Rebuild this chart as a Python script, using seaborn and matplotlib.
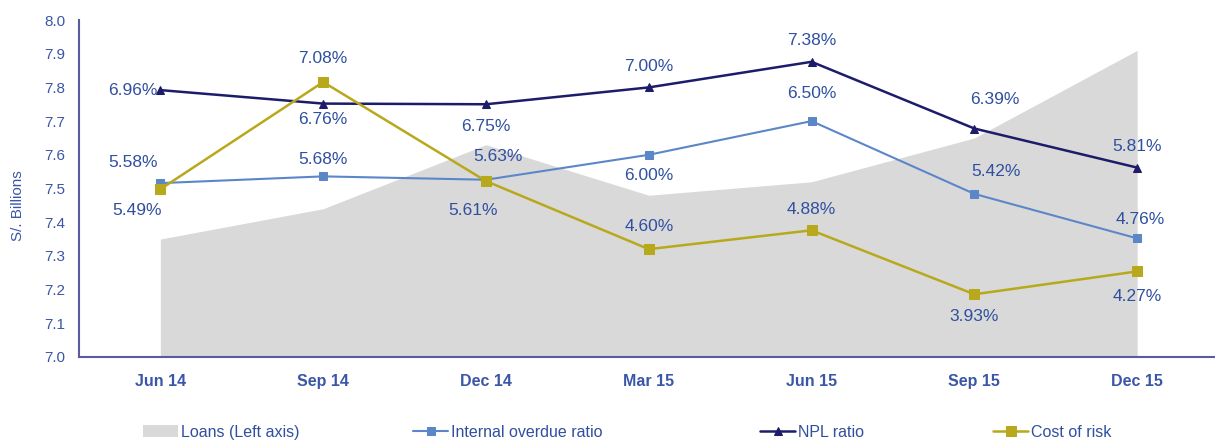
import numpy as np
import pandas as pd
import seaborn as sns
import matplotlib.pyplot as plt

quarters = ['Jun 14', 'Sep 14', 'Dec 14', 'Mar 15', 'Jun 15', 'Sep 15', 'Dec 15']
loans = [7.35, 7.44, 7.63, 7.48, 7.52, 7.65, 7.91]
internal_overdue = [5.58, 5.68, 5.63, 6.00, 6.50, 5.42, 4.76]
npl_ratio = [6.96, 6.76, 6.75, 7.00, 7.38, 6.39, 5.81]
cost_of_risk = [5.49, 7.08, 5.61, 4.60, 4.88, 3.93, 4.27]

# label offsets in pixels (dx, dy) for each point
npl_off = [(-3, 0), (0, -16), (0, -22), (0, 21), (0, 21), (20, 29), (0, 21)]
iod_off = [(-27, 21), (0, 17), (12, 23), (0, -21), (0, 28), (22, 22), (3, 19)]
cor_off = [(-23, -21), (0, 24), (-13, -29), (0, 23), (0, 21), (0, -22), (0, -25)]

TXT = '#2f4f9f'
sns.set_style('white')
plt.rcParams['font.family'] = ['Liberation Sans', 'DejaVu Sans']

x = np.arange(len(quarters))
df = pd.DataFrame({'x': x, 'iod': internal_overdue, 'npl': npl_ratio, 'cor': cost_of_risk})

fig = plt.figure(figsize=(12.15, 4.41), dpi=100)
ax = fig.add_axes([0.065, 0.1905, 0.935, 0.7641])
area = ax.fill_between(x, 7.0, loans, color='#d9d9d9', lw=0, label='Loans (Left axis)')
ax.set_ylim(7.0, 8.0)
ax.set_xlim(-0.5, 6.478)
ax.set_yticks(np.arange(7.0, 8.01, 0.1))
ax.set_yticklabels([f'{v:.1f}' for v in np.arange(7.0, 8.01, 0.1)], color='#3b56a6', fontsize=11)
ax.set_xticks(x)
ax.set_xticklabels(quarters, color='#3b56a6', fontsize=11.5, fontweight='bold')
ax.tick_params(axis='both', length=0)
ax.tick_params(axis='y', pad=10)
ax.tick_params(axis='x', pad=12)
for s in ['top', 'right']:
    ax.spines[s].set_visible(False)
for s in ['left', 'bottom']:
    ax.spines[s].set_color('#5b5b9f')
    ax.spines[s].set_linewidth(1.5)
ax.set_ylabel('S/. Billions', color='#3b56a6', fontsize=11)
ax.yaxis.set_label_coords(-0.0475, 0.448)

ax2 = ax.twinx()
ax2.set_ylim(3.0, 8.0)
ax2.axis('off')

series = [
    ('iod', 'Internal overdue ratio', '#5b87c9', 's', 6, 1.5, iod_off),
    ('npl', 'NPL ratio', '#1c1c6b', '^', 5.5, 1.8, npl_off),
    ('cor', 'Cost of risk', '#b8a91c', 's', 7, 1.8, cor_off),
]
handles = [area]
for col, name, c, m, ms, lw, offs in series:
    sns.lineplot(data=df, x='x', y=col, ax=ax2, color=c, marker=m, markersize=ms,
                 markeredgecolor=c, linewidth=lw, label=name, legend=False)
    handles.append(ax2.lines[-1])
    for xi, v, (dx, dy) in zip(x, df[col], offs):
        ha = 'right' if dx == -3 else 'center'
        ax2.annotate(f'{v:.2f}%', (xi, v), xytext=(dx, dy), textcoords='offset pixels',
                     ha=ha, va='center', color=TXT, fontsize=12.5)
ax2.set_xlim(-0.5, 6.478)

# one legend per entry, so each sits where the reference has it
leg_x = [143, 413, 760, 993]
for h, lx in zip(handles, leg_x):
    fig.legend(handles=[h], labels=[h.get_label()], loc='center left',
               bbox_to_anchor=(lx / 1215, 0.02), frameon=False, fontsize=11.5,
               borderpad=0, borderaxespad=0, handlelength=2.2, handletextpad=0.2,
               labelcolor=TXT)

fig.savefig('out.png', dpi=100)
